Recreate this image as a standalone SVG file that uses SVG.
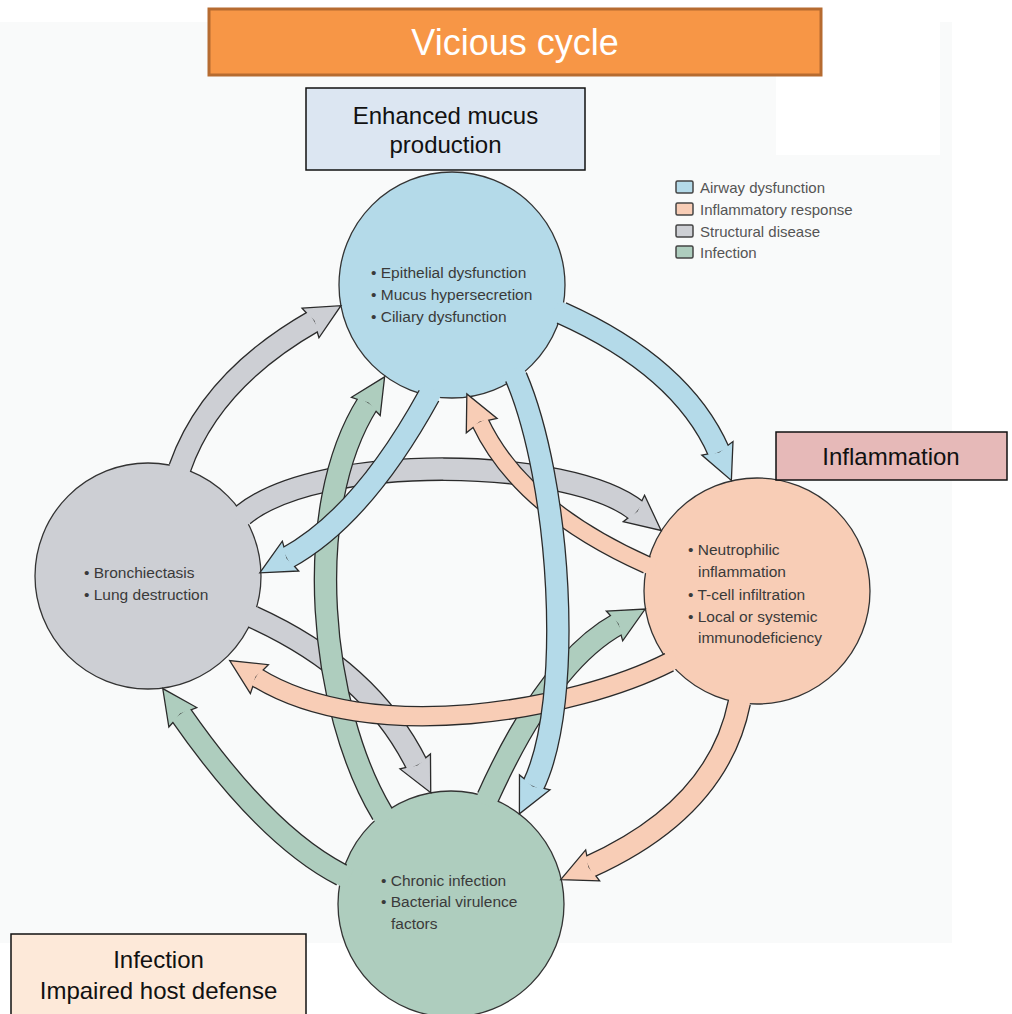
<svg xmlns="http://www.w3.org/2000/svg" xmlns:xlink="http://www.w3.org/1999/xlink" width="1012" height="1014" viewBox="0 0 1012 1014">
<style>
.bg{fill:#f9fafa}
.circ{stroke:#333;stroke-width:1.3}
.cb{fill:#b4dae9}.cp{fill:#f8cdb6}.cg{fill:#cdcfd4}.cn{fill:#aecdbe}
.ct{font-family:"Liberation Sans",Arial,sans-serif;font-size:15.5px;fill:#3a3a3a}
.lg{font-family:"Liberation Sans",Arial,sans-serif;font-size:15px;fill:#555}
.lb{stroke:#444;stroke-width:1.5}
.bx{stroke:#111;stroke-width:1.5}
.bt{font-family:"Liberation Sans",Arial,sans-serif;font-size:24px;fill:#111;text-anchor:middle}
.ol{fill:none;stroke:#2b2b2b}
.w21{stroke-width:23.6}.w18{stroke-width:20.6}.w16{stroke-width:18.6}
.f21{stroke-width:21;fill:none}.f18{stroke-width:18;fill:none}.f16{stroke-width:16;fill:none}
.sb{stroke:#b4dae9}.sp{stroke:#f8cdb6}.sg{stroke:#cdcfd4}.sn{stroke:#aecdbe}
.hd{stroke:#2b2b2b;stroke-width:1.3;stroke-linejoin:miter}
</style>
<defs>
<path id="ah" d="M-4,-17 L31,0 L-4,17 L0,0 Z"/>
</defs>
<rect x="0" y="0" width="1012" height="1014" fill="#ffffff"/>
<rect class="bg" x="0" y="22" width="952" height="921"/>
<rect x="776" y="22" width="164" height="133" fill="#ffffff"/>

<g id="legend">
<rect class="lb" x="676" y="181" width="17" height="12" rx="1.5" fill="#b4dae9"/>
<text class="lg" x="700" y="193">Airway dysfunction</text>
<rect class="lb" x="676" y="203" width="17" height="12" rx="1.5" fill="#f8cdb6"/>
<text class="lg" x="700" y="215">Inflammatory response</text>
<rect class="lb" x="676" y="225" width="17" height="12" rx="1.5" fill="#cdcfd4"/>
<text class="lg" x="700" y="237">Structural disease</text>
<rect class="lb" x="676" y="246" width="17" height="12" rx="1.5" fill="#aecdbe"/>
<text class="lg" x="700" y="258">Infection</text>
</g>

<g id="node-airway">
<circle class="circ cb" cx="452" cy="285" r="113"/>
<text class="ct" x="371" y="278">• Epithelial dysfunction</text>
<text class="ct" x="371" y="300">• Mucus hypersecretion</text>
<text class="ct" x="371" y="322">• Ciliary dysfunction</text>
</g>
<g id="node-inflammatory">
<circle class="circ cp" cx="757" cy="591" r="113"/>
<text class="ct" x="688" y="555">• Neutrophilic</text>
<text class="ct" x="698" y="577">inflammation</text>
<text class="ct" x="688" y="600">• T-cell infiltration</text>
<text class="ct" x="688" y="622">• Local or systemic</text>
<text class="ct" x="698" y="643">immunodeficiency</text>
</g>
<g id="node-structural">
<circle class="circ cg" cx="148" cy="576" r="113"/>
<text class="ct" x="84" y="578">• Bronchiectasis</text>
<text class="ct" x="84" y="600">• Lung destruction</text>
</g>
<g id="node-infection">
<circle class="circ cn" cx="451" cy="904" r="113"/>
<text class="ct" x="381" y="886">• Chronic infection</text>
<text class="ct" x="381" y="907">• Bacterial virulence</text>
<text class="ct" x="391" y="929">factors</text>
</g>

<g id="connectors">
<g id="a8">
<path class="ol w21" d="M243,515 C320,452 570,457 637,511"/>
<use xlink:href="#ah" href="#ah" class="hd" fill="#cdcfd4" transform="translate(637,511) rotate(38.9)"/>
<path class="f21 sg" d="M236.5,520.3 L243,515 C320,452 570,457 637,511"/>
</g>
<g id="a9">
<path class="ol w21" d="M253,617 Q370,670 417,765"/>
<use xlink:href="#ah" href="#ah" class="hd" fill="#cdcfd4" transform="translate(417,765) rotate(63.7)"/>
<path class="f21 sg" d="M245.7,613.7 L253,617 Q370,670 417,765"/>
</g>
<g id="a7">
<path class="ol w21" d="M180,467.7 Q210.7,379.9 314,321"/>
<use xlink:href="#ah" href="#ah" class="hd" fill="#cdcfd4" transform="translate(314,321) rotate(-29.7)"/>
<path class="f21 sg" d="M177.4,475.2 L180,467.7 Q210.7,379.9 314,321"/>
</g>
<g id="a10">
<path class="ol w21" d="M382.5,814 C320,710 300,510 368,403"/>
<use xlink:href="#ah" href="#ah" class="hd" fill="#aecdbe" transform="translate(368,403) rotate(-57.6)"/>
<path class="f21 sn" d="M386.6,820.9 L382.5,814 C320,710 300,510 368,403"/>
</g>
<g id="a12">
<path class="ol w21" d="M341.7,875 Q265.6,836 180.5,714"/>
<use xlink:href="#ah" href="#ah" class="hd" fill="#aecdbe" transform="translate(180.5,714) rotate(-124.9)"/>
<path class="f21 sn" d="M348.8,878.6 L341.7,875 Q265.6,836 180.5,714"/>
</g>
<g id="a11">
<path class="ol w21" d="M488,797 Q549,662 618,624"/>
<use xlink:href="#ah" href="#ah" class="hd" fill="#aecdbe" transform="translate(618,624) rotate(-28.8)"/>
<path class="f21 sn" d="M484.7,804.3 L488,797 Q549,662 618,624"/>
</g>
<g id="a4">
<path class="ol w16" d="M647,565 Q520.6,508.5 480,422"/>
<use xlink:href="#ah" href="#ah" class="hd" fill="#f8cdb6" transform="translate(480,422) rotate(-115.1)"/>
<path class="f16 sp" d="M654.3,568.3 L647,565 Q520.6,508.5 480,422"/>
</g>
<g id="a5">
<path class="ol w18" d="M669.3,662.2 C575,710 370,748 256,677"/>
<use xlink:href="#ah" href="#ah" class="hd" fill="#f8cdb6" transform="translate(256,677) rotate(-148.1)"/>
<path class="f18 sp" d="M676.4,658.6 L669.3,662.2 C575,710 370,748 256,677"/>
</g>
<g id="a6">
<path class="ol w21" d="M739.3,702.6 Q718,809 589,867"/>
<use xlink:href="#ah" href="#ah" class="hd" fill="#f8cdb6" transform="translate(589,867) rotate(155.8)"/>
<path class="f21 sp" d="M740.9,694.8 L739.3,702.6 Q718,809 589,867"/>
</g>
<g id="a1">
<path class="ol w21" d="M561.5,313 Q682,367 719,452"/>
<use xlink:href="#ah" href="#ah" class="hd" fill="#b4dae9" transform="translate(719,452) rotate(66.5)"/>
<path class="f21 sb" d="M554.2,309.7 L561.5,313 Q682,367 719,452"/>
</g>
<g id="a2">
<path class="ol w21" d="M429,395.6 Q362.4,516.7 287,558"/>
<use xlink:href="#ah" href="#ah" class="hd" fill="#b4dae9" transform="translate(287,558) rotate(151.3)"/>
<path class="f21 sb" d="M432.9,388.6 L429,395.6 Q362.4,516.7 287,558"/>
</g>
<g id="a3">
<path class="ol w21" d="M516,377 C560,480 575,700 533,786"/>
<use xlink:href="#ah" href="#ah" class="hd" fill="#b4dae9" transform="translate(533,786) rotate(116)"/>
<path class="f21 sb" d="M512.9,369.6 L516,377 C560,480 575,700 533,786"/>
</g>
</g>

<g id="title">
<rect x="209" y="9" width="612" height="66" fill="#f79646" stroke="#b66b30" stroke-width="3"/>
<text x="515" y="55" font-family="'Liberation Sans',Arial,sans-serif" font-size="36" fill="#ffffff" text-anchor="middle">Vicious cycle</text>
</g>
<g id="label-mucus">
<rect class="bx" x="306" y="88" width="279" height="82" fill="#dce6f2"/>
<text class="bt" x="445.5" y="124">Enhanced mucus</text>
<text class="bt" x="445.5" y="153">production</text>
</g>
<g id="label-inflammation">
<rect class="bx" x="776" y="432" width="231" height="48" fill="#e6b9b8"/>
<text class="bt" x="891" y="465" font-size="25">Inflammation</text>
</g>
<g id="label-infection">
<rect class="bx" x="11" y="934" width="295" height="90" fill="#fde9d9"/>
<text class="bt" x="158.5" y="968">Infection</text>
<text class="bt" x="158.5" y="999">Impaired host defense</text>
</g>
</svg>
